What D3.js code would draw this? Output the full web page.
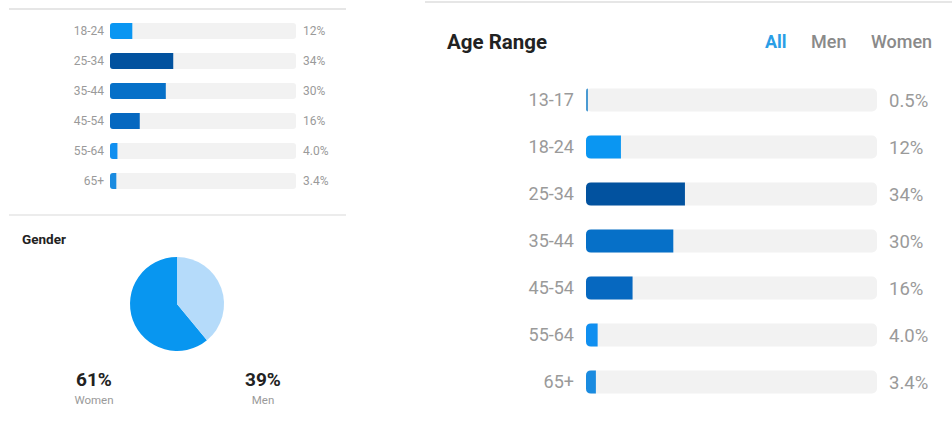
<!doctype html>
<html lang="en">
  <head>
    <meta charset="utf-8">
    <title>Audience insights</title>
    <script src="https://d3js.org/d3.v7.min.js"></script>
    <style>
      body { margin: 0; background: #fff; }
      text { font-family: Roboto, "Noto Sans", sans-serif; }
    </style>
  </head>
  <body>
    <svg width="952" height="430"></svg>
    <script>
      var ages = ['13-17', '18-24', '25-34', '35-44', '45-54', '55-64', '65+'];
      var agePct = [0.5, 12, 34, 30, 16, 4.0, 3.4];
      var ageLabels = ['0.5%', '12%', '34%', '30%', '16%', '4.0%', '3.4%'];
      var ageColors = ['#4a9ad2', '#0a96f2', '#02529f', '#0670c8', '#0668c0', '#108ff0', '#1a8be0'];

      var genders = ['Women', 'Men'];
      var genderPct = [61, 39];
      var genderColors = ['#0896f0', '#b5dbfa'];

      var tabs = ['All', 'Men', 'Women'];

      var svg = d3.select('svg');

      // left-rounded bar
      function leftRound(x, y, w, h, r) {
        r = Math.min(r, w);
        return 'M' + (x + w) + ',' + y + 'H' + (x + r) +
          'Q' + x + ',' + y + ' ' + x + ',' + (y + r) +
          'V' + (y + h - r) +
          'Q' + x + ',' + (y + h) + ' ' + (x + r) + ',' + (y + h) +
          'H' + (x + w) + 'Z';
      }

      function drawBars(g, opt) {
        var rows = ages.map(function(a, i) {
          return { age: a, v: agePct[i], label: ageLabels[i], color: ageColors[i] };
        }).slice(opt.from);

        var y = d3.scaleBand()
          .domain(rows.map(function(d) { return d.age; }))
          .range([opt.y0, opt.y0 + opt.step * rows.length])
          .paddingInner(1 - opt.barH / opt.step)
          .paddingOuter((1 - opt.barH / opt.step) / 2);

        var x = d3.scaleLinear().domain([0, 100]).range([opt.x0, opt.x1]);

        var row = g.selectAll('g.row').data(rows).enter()
          .append('g').attr('class', 'row');

        row.append('rect')
          .attr('x', x(0))
          .attr('y', function(d) { return y(d.age); })
          .attr('width', x(100) - x(0))
          .attr('height', y.bandwidth())
          .attr('rx', opt.r)
          .attr('fill', '#f2f2f2');

        row.append('path')
          .attr('fill', function(d) { return d.color; })
          .attr('d', function(d) {
            var w = Math.max(x(d.v) - x(0), 2);
            return leftRound(x(0), y(d.age), w, y.bandwidth(), opt.r);
          });

        row.append('text')
          .attr('x', x(0) - opt.gap)
          .attr('y', function(d) { return y(d.age) + y.bandwidth() / 2; })
          .attr('dy', '0.36em')
          .attr('text-anchor', 'end')
          .attr('font-size', opt.fs)
          .attr('fill', '#9a9a9a')
          .text(function(d) { return d.age; });

        row.append('text')
          .attr('x', x(100) + opt.vgap)
          .attr('y', function(d) { return y(d.age) + y.bandwidth() / 2; })
          .attr('dy', '0.36em')
          .attr('font-size', opt.vfs)
          .attr('fill', '#9a9a9a')
          .text(function(d) { return d.label; });
      }

      // ---- left panel
      var left = svg.append('g');
      left.append('line').attr('x1', 9).attr('x2', 346).attr('y1', 9).attr('y2', 9)
        .attr('stroke', '#e6e6e6').attr('stroke-width', 2);

      drawBars(left, { from: 1, y0: 16, step: 30, barH: 16, x0: 110, x1: 296, r: 3,
        gap: 6, vgap: 7, fs: 12, vfs: 12 });

      left.append('line').attr('x1', 9).attr('x2', 346).attr('y1', 215).attr('y2', 215)
        .attr('stroke', '#e6e6e6').attr('stroke-width', 1.5);

      left.append('text').attr('x', 22).attr('y', 244)
        .attr('font-size', 13.5).attr('font-weight', 700).attr('fill', '#222')
        .text('Gender');

      var pie = d3.pie().sort(null).startAngle(2 * Math.PI).endAngle(0);
      var arc = d3.arc().innerRadius(0).outerRadius(47);
      var pg = left.append('g').attr('transform', 'translate(177,304)');
      pg.selectAll('path').data(pie(genderPct)).enter()
        .append('path')
        .attr('d', arc)
        .attr('fill', function(d, i) { return genderColors[i]; });

      var gx = [94, 263];
      genders.forEach(function(gname, i) {
        left.append('text').attr('x', gx[i]).attr('y', 386)
          .attr('text-anchor', 'middle').attr('font-size', 19).attr('font-weight', 700)
          .attr('fill', '#222').text(genderPct[i] + '%');
        left.append('text').attr('x', gx[i]).attr('y', 404)
          .attr('text-anchor', 'middle').attr('font-size', 11.5).attr('fill', '#9a9a9a')
          .text(gname);
      });

      // ---- right panel
      var right = svg.append('g');
      right.append('line').attr('x1', 425).attr('x2', 952).attr('y1', 2).attr('y2', 2)
        .attr('stroke', '#e6e6e6').attr('stroke-width', 2);

      right.append('text').attr('x', 447).attr('y', 49)
        .attr('font-size', 20.5).attr('font-weight', 700).attr('fill', '#222')
        .text('Age Range');

      var tabX = [765, 811, 871];
      right.selectAll('text.tab').data(tabs).enter()
        .append('text').attr('class', 'tab')
        .attr('x', function(d, i) { return tabX[i]; })
        .attr('y', 48)
        .attr('font-size', 18)
        .attr('font-weight', function(d, i) { return i === 0 ? 700 : 500; })
        .attr('fill', function(d, i) { return i === 0 ? '#2a9ee6' : '#8a8a8a'; })
        .text(function(d) { return d; });

      drawBars(right, { from: 0, y0: 76.5, step: 47, barH: 23, x0: 586, x1: 877, r: 5,
        gap: 12, vgap: 12, fs: 18, vfs: 18.5 });
    </script>
  </body>
</html>
